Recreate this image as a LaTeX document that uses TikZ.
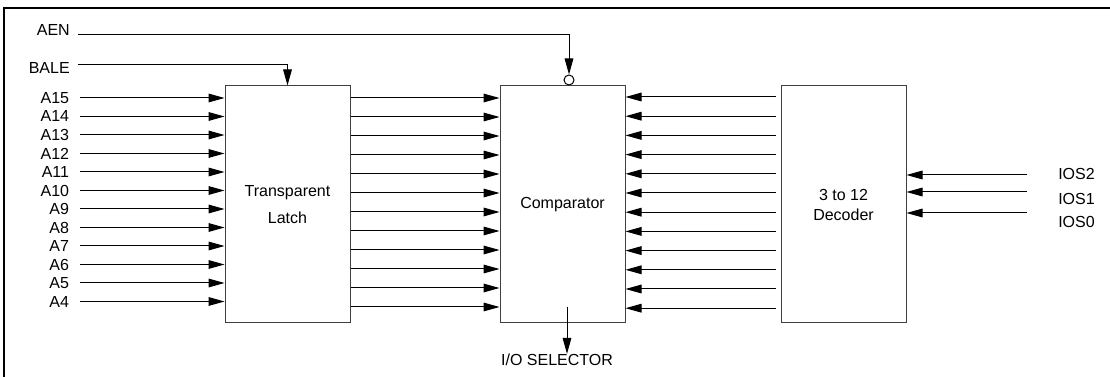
\documentclass[tikz,border=0pt]{standalone}
\usepackage{fontspec}
\setmainfont{Liberation Sans}
\usetikzlibrary{positioning,arrows.meta}

\begin{document}
\begin{tikzpicture}[
    x=0.75pt, y=-0.75pt,
    blk/.style={draw=black!75, line width=0.75pt, align=center,
                minimum width=93.75pt, minimum height=177.75pt,
                font=\fontsize{12}{15}\selectfont},
    sig/.style={inner sep=0pt, font=\fontsize{12}{14}\selectfont},
    arr/.style={-{Triangle[length=12pt, width=6.5pt]}, line width=0.75pt},
]
\useasboundingbox (0,0) rectangle (1110,377);
\clip (0,0) rectangle (1110,377);

% --- FRAME ---
\draw[line width=1.5pt] (4,8) rectangle (1125,395);

% --- NODES ---
\node[blk] (latch) at (287.5, 204.5) {Transparent\\[5pt]Latch};
\node[blk] (cmp)   at (562.5, 204.5) {Comparator};
\node[blk] (dec)   at (843.5, 204.5) {3 to 12\\Decoder};

\node[circle, draw, line width=0.75pt, inner sep=0pt, minimum size=7.5pt]
      (en) at (569, 80) {};

\node[sig, anchor=east] (aen)  at (70, 30) {AEN};
\node[sig, anchor=east] (bale) at (70, 68) {BALE};
\coordinate (aen0)  at (78, 35);
\coordinate (bale0) at (78, 65);

\node[sig, anchor=west] (ios2l) at (1058, 174) {IOS2};
\node[sig, anchor=west] (ios1l) at (1058, 199) {IOS1};
\node[sig, anchor=west] (ios0l) at (1058, 222) {IOS0};
\coordinate (ios2) at (1027, 175);
\coordinate (ios1) at (1027, 192);
\coordinate (ios0) at (1027, 213);

\node[sig] (sel) at (557, 360) {I/O SELECTOR};
\coordinate (sel0) at (567, 307);

% address inputs
\foreach \n [count=\i from 0] in {15,14,...,4}
{
  \node[sig, anchor=east, inner xsep=8pt] (a\n) at (80, 98+18.5*\i) {A\n};
  \draw[arr] (a\n.east) -- (a\n.east -| latch.west);
}

% --- ARROWS ---
\draw[arr] (aen0) -| (en.north);
\draw[arr] (bale0) -| (latch.north);

\foreach \i in {0,...,11}
{
  \draw[arr] (latch.east |- 0,98+19*\i) -- (cmp.west |- 0,98+19*\i);
  \draw[arr] ([xshift=-3.75pt]dec.west |- 0,97+19.2*\i)
      -- (cmp.east |- 0,97+19.2*\i);
}

\draw[arr] (ios2) -- (ios2 -| dec.east);
\draw[arr] (ios1) -- (ios1 -| dec.east);
\draw[arr] (ios0) -- (ios0 -| dec.east);

\draw[arr] (sel0) -- (sel0 |- sel.north);

\end{tikzpicture}
\end{document}
